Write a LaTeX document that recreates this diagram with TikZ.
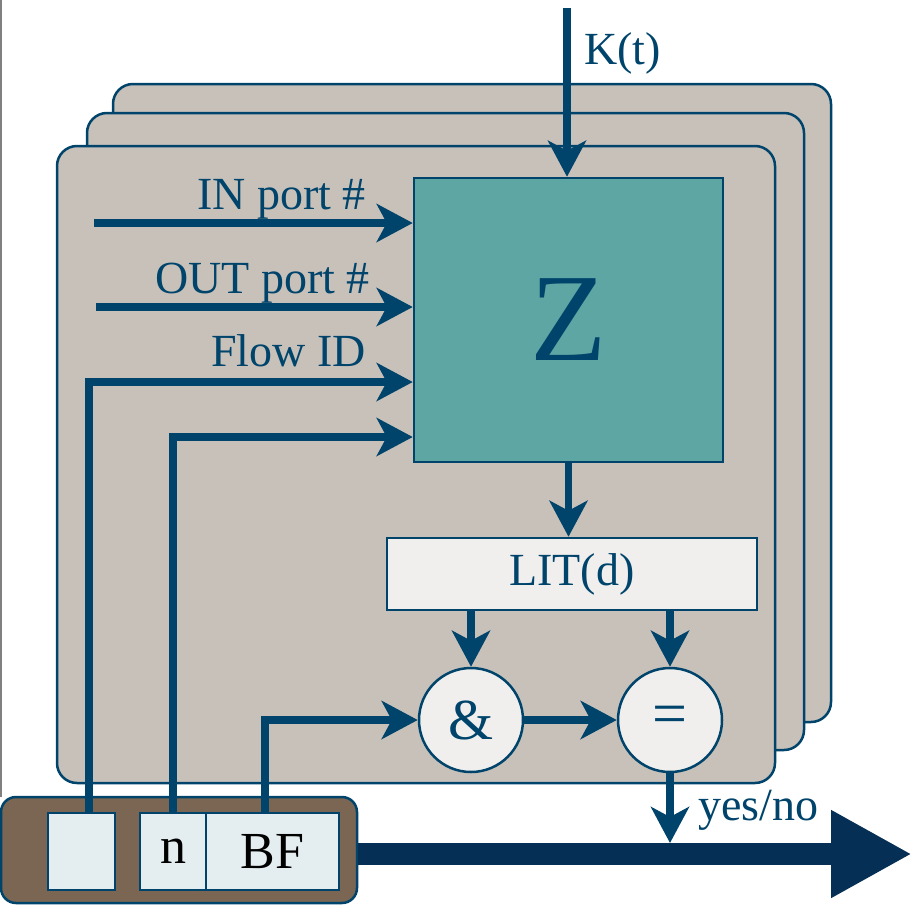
\documentclass[tikz,border=0pt]{standalone}
\usepackage{fontspec}
\setmainfont{Liberation Serif}
\usetikzlibrary{arrows.meta,calc}
\definecolor{panelc}{HTML}{C8C1BA}
\definecolor{tealc}{HTML}{5EA6A3}
\definecolor{linec}{HTML}{00446B}
\definecolor{lightc}{HTML}{F0EFEE}
\definecolor{brownc}{HTML}{7A6652}
\definecolor{cellc}{HTML}{E4EEF0}
\definecolor{navyc}{HTML}{062F55}
\begin{document}
\begin{tikzpicture}[x=1pt,y=-1pt,
  font=\fontsize{46}{52}\selectfont,
  panel/.style={draw=linec, line width=2.5pt, fill=panelc, rounded corners=20pt},
  flow/.style={draw=linec, line width=7.5pt, -{Stealth[length=36pt,width=38pt,inset=10pt]}},
  lbl/.style={text=linec, inner sep=0pt},
  zbox/.style={draw=linec, line width=2.5pt, fill=tealc, text=linec, inner sep=0pt, font=\fontsize{125}{130}\selectfont},
  litbox/.style={draw=linec, line width=2.5pt, fill=lightc, text=linec, inner sep=0pt},
  circ/.style={circle, draw=linec, line width=2.5pt, fill=lightc, text=linec, inner sep=0pt, minimum size=104pt},
  basebox/.style={draw=linec, line width=2.5pt, fill=brownc, rounded corners=15pt, inner sep=0pt},
  cell/.style={draw=linec, line width=2pt, fill=cellc, text=black, inner sep=0pt, minimum height=77pt, font=\fontsize{52}{56}\selectfont},
  bigarrow/.style={draw=navyc, line width=22pt, -{Triangle[length=81pt,width=82pt]}}
]
\useasboundingbox (0,0) rectangle (912,905);
% left edge line
\draw[gray, line width=1.5pt] (1,0) -- (1,797);
% stacked panels
\draw[panel] (113,84) rectangle (831,722);
\draw[panel] (87,113) rectangle (804,750);
\draw[panel] (57,146) rectangle (775,783);
% main blocks
\node[zbox, minimum width=309pt, minimum height=284pt] (Z) at (568.5,320) {Z};
\node[litbox, minimum width=370pt, minimum height=72pt] (LIT) at (572,574) {LIT(d)};
\node[circ, font=\fontsize{58}{60}\selectfont] (and) at (471,720) {\&};
\node[circ, font=\fontsize{62}{64}\selectfont] (eq) at (670,720) {=};
% base register
\node[basebox, minimum width=356pt, minimum height=106pt] (base) at (179,850) {};
\node[cell, minimum width=67pt] (c0) at (81.5,851.5) {};
\node[cell, minimum width=66pt] (nbox) at (173,851.5) {n};
\node[cell, minimum width=133pt] (bf) at (272.5,851.5) {BF};
% labels
\node[lbl, anchor=base east] (inL) at (366,209) {IN port \#};
\node[lbl, anchor=base east] (outL) at (370,293) {OUT port \#};
\node[lbl, anchor=base east] (flL) at (366,366) {Flow ID};
\node[lbl, anchor=base west] (kL) at (584,64) {K(t)};
\node[lbl, anchor=base west] (ynL) at (698,820) {yes/no};
% coordinates
\coordinate (kt) at (567,8);
\coordinate (inS) at (94,223);
\coordinate (outS) at (96,307);
\coordinate (fl) at (89,382);
\coordinate (nl) at (173,437);
\coordinate (bl) at (265,720);
\coordinate (out) at (912,854);
% connectors
\draw[flow] (kt) -- (kt |- Z.north);
\draw[flow] (inS) -- (inS -| Z.west);
\draw[flow] (outS) -- (outS -| Z.west);
\draw[flow] (c0.north -| fl) -- (fl) -- (fl -| Z.west);
\draw[flow] (nbox.north) -- (nl) -- (nl -| Z.west);
\draw[flow] (bf.north -| bl) -- (bl) -- (and.west);
\draw[flow] (Z.south) -- (Z.south |- LIT.north);
\draw[flow] (LIT.south -| and) -- (and.north);
\draw[flow] (LIT.south -| eq) -- (eq.north);
\draw[flow] (and.east) -- (eq.west);
\draw[bigarrow] (base.east |- out) -- (out);
\draw[flow] (eq.south) -- ($(eq.south |- out)+(0,-11)$);
\end{tikzpicture}
\end{document}
